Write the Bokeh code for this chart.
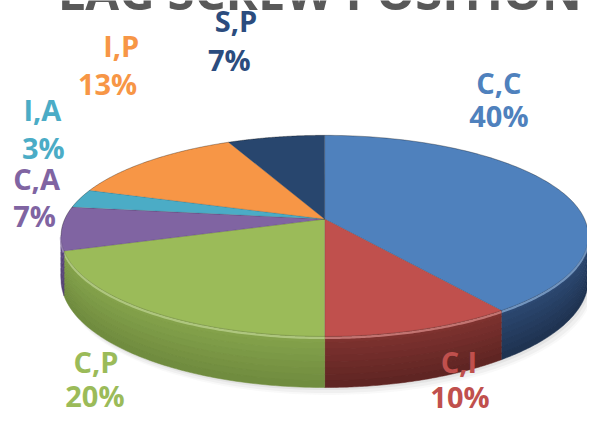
import numpy as np
from bokeh.plotting import figure
from bokeh.models import Range1d, ColumnDataSource
from bokeh.core.properties import value
from bokeh.embed import file_html
from bokeh.resources import INLINE

# ---------------- data ----------------
categories = ["C,C", "C,I", "C,P", "C,A", "I,A", "I,P", "S,P"]
percent = [40, 10, 20, 7, 3, 13, 7]
pct_labels = ["40%", "10%", "20%", "7%", "3%", "13%", "7%"]
title_text = "LAG SCREW POSITION"

# ---------------- styles ----------------
top_colors = ["#4F81BD", "#C0504D", "#9BBB59", "#8064A2", "#4BACC6", "#F79646", "#28466E"]
side_colors = ["#22385A", "#6A2927", "#7E9D47", "#5E4A80", "#2E7F94", "#B86A2C", "#1A2F4C"]
label_colors = ["#4F81BD", "#C0504D", "#9BBB59", "#8064A2", "#4BACC6", "#F79646", "#2B4C7E"]

# label anchor positions (reference pixel coordinates, text baseline)
name_pos = [(512, 99), (471, 388), (98, 388), (37, 198), (43, 127), (124, 60), (242, 34)]
pct_pos = [(512, 133), (472, 425), (97, 424), (35, 237), (44, 166), (110, 100), (235, 75)]

# 3-D layout (reference pixel coordinates)
CX, CY = 333.0, 227.0
K = 267.0
KS = 101.5
U = 0.1667
T0 = 44.0

W, H = 587, 416
REF_W, REF_H = 603, 432
SY = H / REF_H
LABEL_PX = 29
TITLE_PX = 49


def proj(theta):
    d = 1 + U * np.cos(theta)
    return CX + K * np.sin(theta) / d, CY - KS * np.cos(theta) / d


def thick(theta):
    return T0 / (1 + U * np.cos(theta))


def mix(c1, c2, t):
    a = [int(c1[i:i + 2], 16) for i in (1, 3, 5)]
    b = [int(c2[i:i + 2], 16) for i in (1, 3, 5)]
    return "#%02x%02x%02x" % tuple(int(round(a[k] + (b[k] - a[k]) * t)) for k in range(3))


p = figure(width=W, height=H, output_backend="svg", toolbar_location=None,
           x_range=Range1d(0, REF_W), y_range=Range1d(REF_H, 0),
           min_border=0, outline_line_color=None, background_fill_color="white",
           border_fill_color="white")
p.axis.visible = False
p.grid.visible = False

total = float(sum(percent))
bounds = np.concatenate([[0], np.cumsum(percent)]) / total * 2 * np.pi

# soft shadow under the disc
ts_all = np.linspace(0, 2 * np.pi, 240)
bx, by = proj(ts_all)
by = by + thick(ts_all)
for dx, dy, a in [(5, 8, 0.05), (4, 6, 0.07), (2, 3, 0.1)]:
    p.patch(bx + dx, by + dy, fill_color="#808080", fill_alpha=a, line_color=None)

# visible side walls
th_a = np.arccos(-U)
th_b = 2 * np.pi - th_a
nb = 8
for i in range(len(percent)):
    a0 = max(bounds[i], th_a)
    a1 = min(bounds[i + 1], th_b)
    if a1 <= a0:
        continue
    ts = np.linspace(a0, a1, 80)
    x, y = proj(ts)
    t = thick(ts)
    c_top = mix(side_colors[i], top_colors[i], 0.25)
    c_bot = mix(side_colors[i], "#000000", 0.12)
    xs, ys, cs = [], [], []
    for j in range(nb):
        f0, f1 = j / nb, (j + 1) / nb
        xs.append(list(np.concatenate([x, x[::-1]])))
        ys.append(list(np.concatenate([y + t * f0 - 0.3, (y + t * f1 + 0.3)[::-1]])))
        cs.append(mix(c_top, c_bot, (j + 0.5) / nb))
    p.patches(xs, ys, fill_color=cs, line_color=cs, line_width=0.5)
    # bevel highlight along the rim
    p.line(x, y + 1.5, line_color=mix(top_colors[i], "#ffffff", 0.3), line_width=2.5, line_alpha=0.8)

# top faces
txs, tys = [], []
for i in range(len(percent)):
    ts = np.linspace(bounds[i], bounds[i + 1], 100)
    x, y = proj(ts)
    txs.append([CX] + list(x))
    tys.append([CY] + list(y))
p.patches(txs, tys, fill_color=top_colors, line_color="#000000", line_alpha=0.12, line_width=1)

# back rim outline
tb = np.linspace(-th_a, th_a, 120)
rx, ry = proj(tb)
p.line(rx, ry, line_color="#000000", line_alpha=0.2, line_width=1)

# labels (baseline correction for the renderer's text placement)
lab_shift = 0.45 * LABEL_PX / SY
lab = ColumnDataSource(dict(
    x=[q[0] for q in name_pos] + [q[0] for q in pct_pos],
    y=[q[1] - lab_shift for q in name_pos] + [q[1] - lab_shift for q in pct_pos],
    text=categories + pct_labels,
    color=label_colors + label_colors,
))
p.text(x="x", y="y", text="text", source=lab, text_color="color",
       text_font=value("Open Sans"), text_font_style="bold", text_font_size="%dpx" % LABEL_PX,
       text_align="center", text_baseline="alphabetic")

# title (cut off at the top, as in the reference)
title_shift = 0.45 * TITLE_PX / SY
p.text(x=[328], y=[13 - title_shift], text=[title_text], text_color="#595959",
       text_font=value("Open Sans"), text_font_style="bold", text_font_size="%dpx" % TITLE_PX,
       text_align="center", text_baseline="alphabetic")

open("out.html", "w").write(file_html(p, INLINE))
